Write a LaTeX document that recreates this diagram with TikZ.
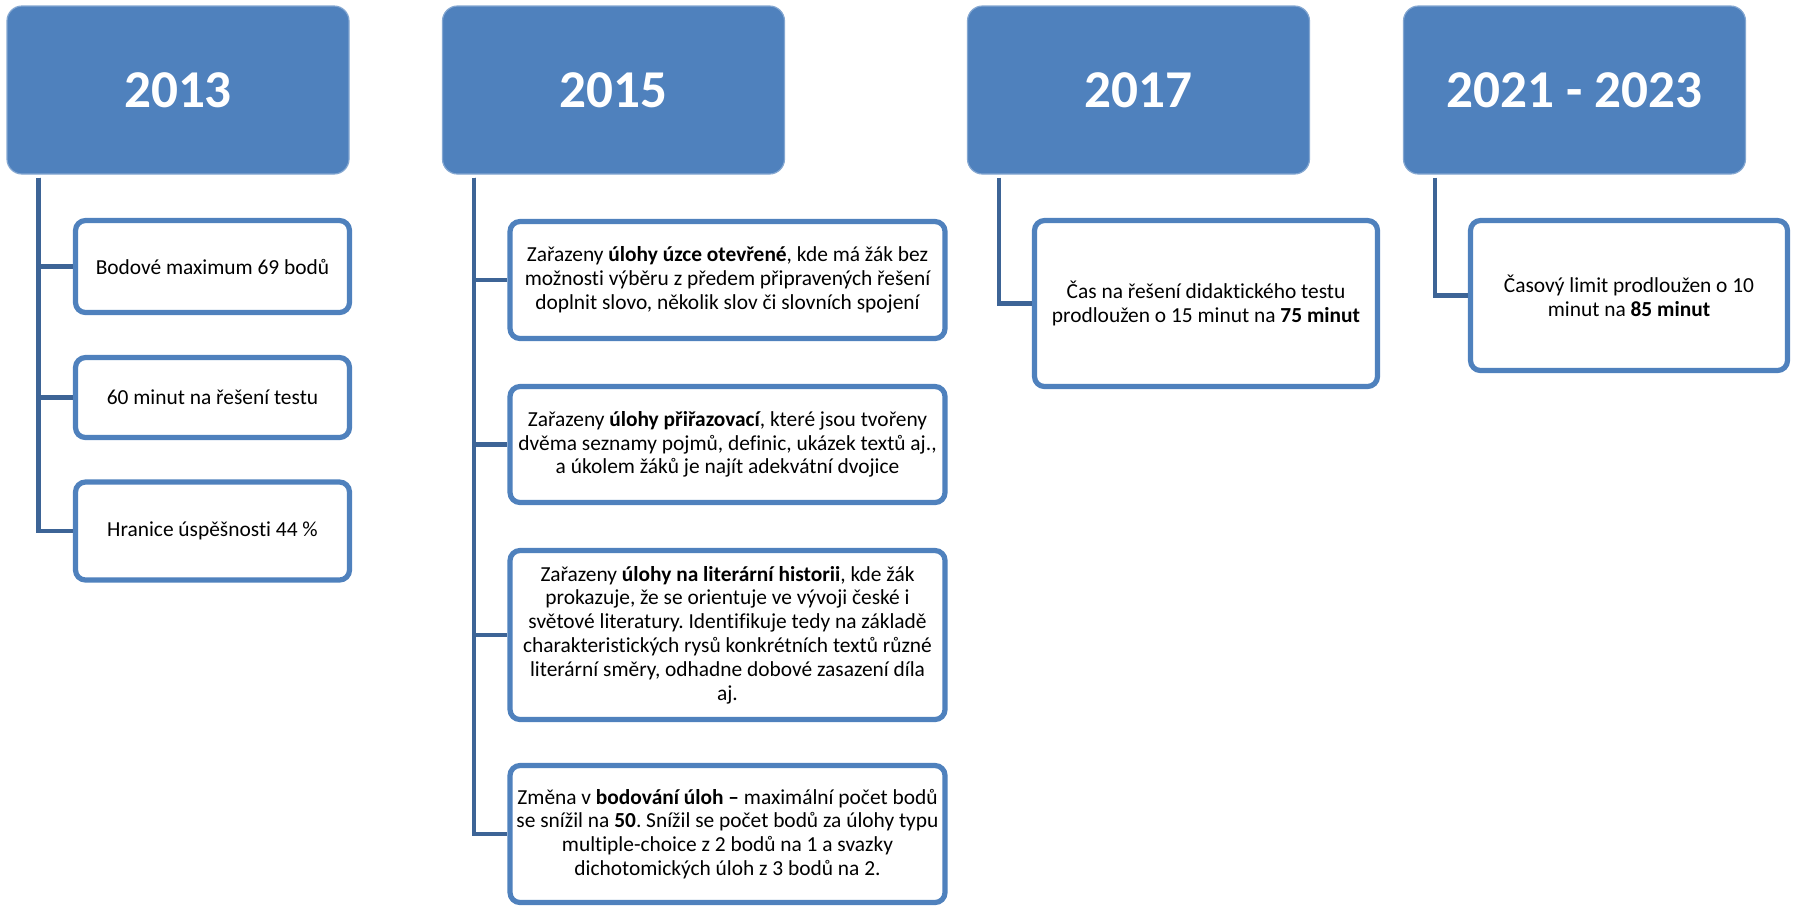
\documentclass[tikz,border=0pt]{standalone}
\usepackage{fontspec}
\setmainfont{Carlito}[Ligatures=NoCommon]
\usepackage{tikz}
\frenchspacing

\definecolor{hdrblue}{RGB}{79,129,189}
\definecolor{linkblue}{RGB}{61,100,150}

\begin{document}
\begin{tikzpicture}[x=0.5pt,y=-0.5pt,
    yearbox/.style={fill=hdrblue,draw=hdrblue!70!white,line width=0.6pt,rounded corners=7.5pt,
        minimum width=171pt,minimum height=84pt,inner sep=0pt,text=white,
        font=\fontsize{26.6}{30}\selectfont\bfseries},
    itembox/.style={draw=hdrblue,line width=2.6pt,rounded corners=5pt,fill=white,
        align=center,inner sep=0pt,font=\fontsize{10.7}{11.9}\selectfont},
    trunk/.style={draw=linkblue,line width=2.4pt}]
    \useasboundingbox (0,0) rectangle (1794,907);

    \node[yearbox] (h13) at (178,90) {2013};
    \node[yearbox] (h15) at (613.5,90) {2015};
    \node[yearbox] (h17) at (1138.5,90) {2017};
    \node[yearbox] (h21) at (1574.5,90) {2021 - 2023};

    \coordinate (t13) at ([xshift=16pt,yshift=-1.5pt]h13.south west);
    \coordinate (t15) at ([xshift=16pt,yshift=-1.5pt]h15.south west);
    \coordinate (t17) at ([xshift=16pt,yshift=-1.5pt]h17.south west);
    \coordinate (t21) at ([xshift=16pt,yshift=-1.5pt]h21.south west);

    % 2013
    \node[itembox,minimum width=137pt,minimum height=46pt] (a1) at (212.5,266.5) {Bodové maximum 69 bodů};
    \node[itembox,minimum width=137pt,minimum height=40pt] (a2) at (212.5,397.5) {60 minut na řešení testu};
    \node[itembox,minimum width=137pt,minimum height=49pt] (a3) at (212.5,531) {Hranice úspěšnosti 44 \%};

    % 2015
    \node[itembox,minimum width=217.5pt,minimum height=58.5pt] (b1) at (727.5,280)
        {Zařazeny \textbf{úlohy úzce otevřené}, kde má žák bez\\možnosti výběru z předem připravených řešení\\doplnit slovo, několik slov či slovních spojení};
    \node[itembox,minimum width=217.5pt,minimum height=58pt] (b2) at (727.5,444.5)
        {Zařazeny \textbf{úlohy přiřazovací}, které jsou tvořeny\\dvěma seznamy pojmů, definic, ukázek textů aj.,\\a úkolem žáků je najít adekvátní dvojice};
    \node[itembox,minimum width=217.5pt,minimum height=84.5pt] (b3) at (727.5,635)
        {Zařazeny \textbf{úlohy na literární historii}, kde žák\\prokazuje, že se orientuje ve vývoji české i\\světové literatury. Identifikuje tedy na základě\\charakteristických rysů konkrétních textů různé\\literární směry, odhadne dobové zasazení díla\\aj.};
    \node[itembox,minimum width=217.5pt,minimum height=68.5pt] (b4) at (727.5,834)
        {Změna v \textbf{bodování úloh –} maximální počet bodů\\se snížil na \textbf{50}. Snížil se počet bodů za úlohy typu\\multiple-choice z 2 bodů na 1 a svazky\\dichotomických úloh z 3 bodů na 2.};

    % 2017 and 2021
    \node[itembox,minimum width=171.5pt,minimum height=83pt] (c1) at (1206,303.5)
        {Čas na řešení didaktického testu\\prodloužen o 15 minut na \textbf{75 minut}};
    \node[itembox,minimum width=158.5pt,minimum height=75pt] (d1) at (1629,295.5)
        {Časový limit prodloužen o 10\\minut na \textbf{85 minut}};

    \draw[trunk] (t13) |- (a1.west);
    \draw[trunk] (t13) |- (a2.west);
    \draw[trunk] (t13) |- (a3.west);

    \draw[trunk] (t15) |- (b1.west);
    \draw[trunk] (t15) |- (b2.west);
    \draw[trunk] (t15) |- (b3.west);
    \draw[trunk] (t15) |- (b4.west);

    \draw[trunk] (t17) |- (c1.west);
    \draw[trunk] (t21) |- (d1.west);
\end{tikzpicture}
\end{document}
